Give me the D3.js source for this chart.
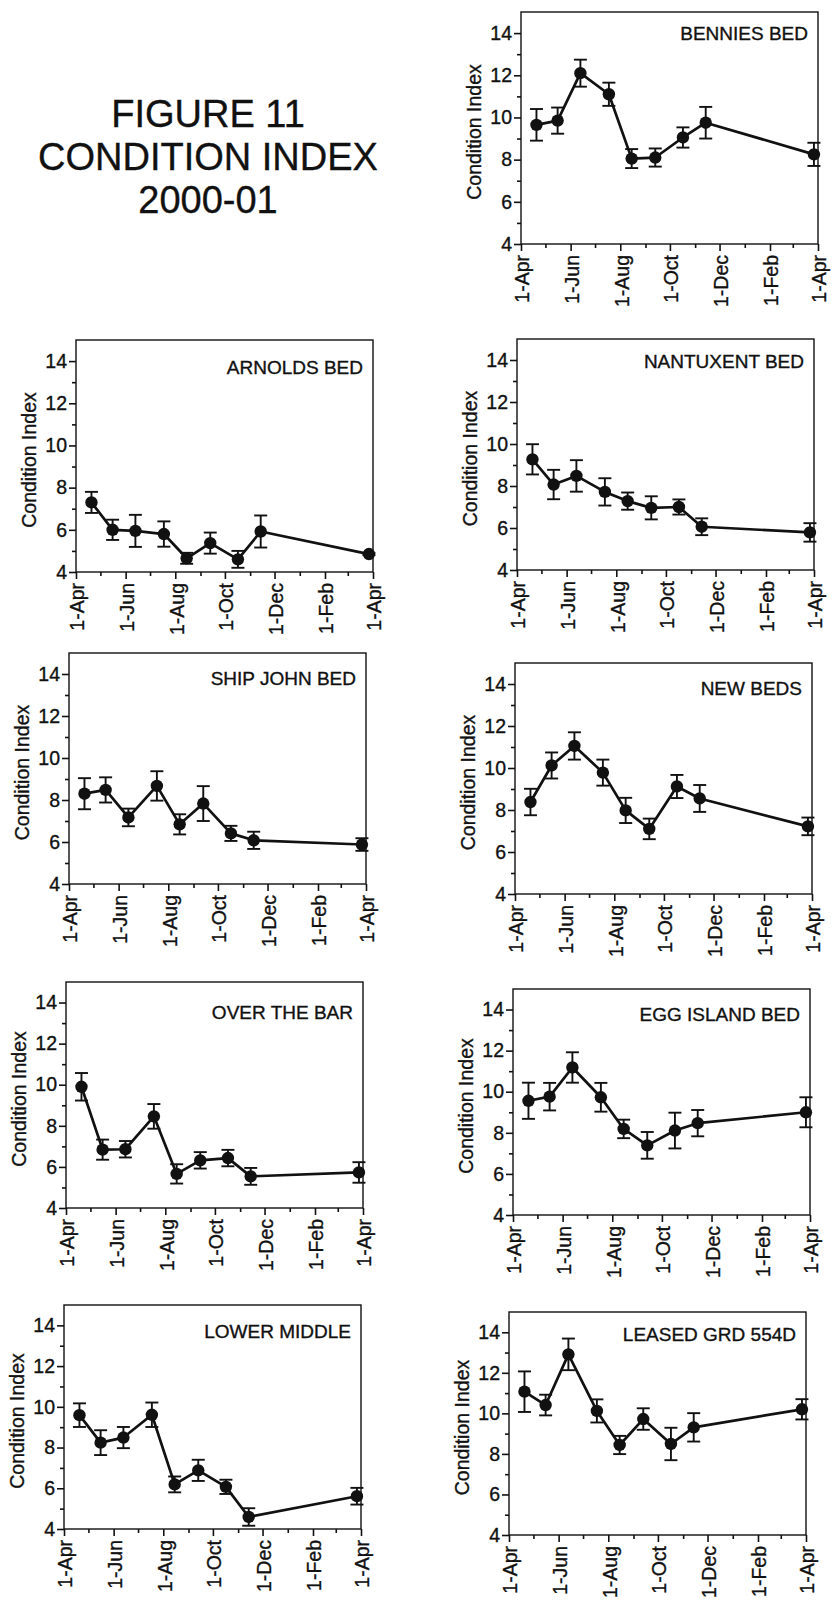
<html>
<head>
    <script src="https://d3js.org/d3.v7.min.js"></script>
    <style type="text/css">
        body { margin: 0; background: #fff; }
        svg { display: block; background: #fff; }
        text { font-family: "Liberation Sans", Arial, Helvetica, sans-serif; fill: #111; stroke: #111; stroke-width: 0.35px; }
        .frame { fill: none; stroke: #111; stroke-width: 1.4px; }
        .axis path { display: none; }
        .axis line { stroke: #111; stroke-width: 1.6px; }
        .axis text { font-size: 19.5px; }
        .trend { fill: none; stroke: #111; stroke-width: 2.7px; stroke-linejoin: round; }
        .err { stroke: #111; stroke-width: 1.9px; }
        .dot { fill: #111; }
        .bed { font-size: 19px; text-anchor: end; }
        .ylab { font-size: 19.5px; text-anchor: middle; }
        .title { font-size: 38px; text-anchor: middle; }
    </style>
</head>
<body>
<script type="text/javascript">
    // sampling dates (same for every bed)
    var sampleDates = ["2000-04-20", "2000-05-16", "2000-06-13", "2000-07-18", "2000-08-15",
                       "2000-09-13", "2000-10-17", "2000-11-14", "2001-03-27"];

    var bedNames = ["BENNIES BED", "ARNOLDS BED", "NANTUXENT BED", "SHIP JOHN BED", "NEW BEDS",
                    "OVER THE BAR", "EGG ISLAND BED", "LOWER MIDDLE", "LEASED GRD 554D"];

    var benniesMean   = [9.65, 9.85, 12.1, 11.1, 8.05, 8.1, 9.05, 9.75, 8.25];
    var benniesErr    = [0.75, 0.62, 0.64, 0.55, 0.45, 0.43, 0.48, 0.75, 0.55];
    var arnoldsMean   = [7.3, 6.0, 5.95, 5.8, 4.65, 5.37, 4.6, 5.92, 4.85];
    var arnoldsErr    = [0.5, 0.48, 0.76, 0.6, 0.26, 0.5, 0.4, 0.76, 0.05];
    var nantuxentMean = [9.27, 8.07, 8.48, 7.72, 7.28, 6.96, 7.0, 6.06, 5.79];
    var nantuxentErr  = [0.72, 0.7, 0.75, 0.65, 0.41, 0.55, 0.36, 0.4, 0.44];
    var shipJohnMean  = [8.3, 8.48, 7.17, 8.67, 6.84, 7.83, 6.41, 6.08, 5.88];
    var shipJohnErr   = [0.74, 0.6, 0.42, 0.7, 0.48, 0.83, 0.36, 0.41, 0.3];
    var newBedsMean   = [8.38, 10.12, 11.05, 9.78, 7.98, 7.1, 9.12, 8.55, 7.22];
    var newBedsErr    = [0.63, 0.62, 0.65, 0.62, 0.6, 0.49, 0.55, 0.64, 0.42];
    var overBarMean   = [9.9, 6.84, 6.86, 8.46, 5.66, 6.32, 6.43, 5.54, 5.73];
    var overBarErr    = [0.67, 0.49, 0.4, 0.6, 0.47, 0.4, 0.4, 0.41, 0.5];
    var eggIslandMean = [9.56, 9.76, 11.18, 9.73, 8.19, 7.39, 8.11, 8.47, 9.0];
    var eggIslandErr  = [0.88, 0.67, 0.74, 0.7, 0.45, 0.65, 0.87, 0.64, 0.73];
    var lowerMidMean  = [9.59, 8.24, 8.49, 9.61, 6.19, 6.88, 6.07, 4.59, 5.61];
    var lowerMidErr   = [0.58, 0.61, 0.52, 0.6, 0.39, 0.52, 0.35, 0.43, 0.41];
    var leasedMean    = [11.07, 10.41, 12.91, 10.12, 8.44, 9.72, 8.49, 9.31, 10.2];
    var leasedErr     = [1.0, 0.51, 0.78, 0.57, 0.45, 0.53, 0.8, 0.7, 0.5];

    var yMajor = [4, 6, 8, 10, 12, 14];
    var yMinor = [5, 7, 9, 11, 13];
    var yDomain = [4, 15];
    var xRange = ["2000-04-01", "2001-04-01"];

    var means = [benniesMean, arnoldsMean, nantuxentMean, shipJohnMean, newBedsMean,
                 overBarMean, eggIslandMean, lowerMidMean, leasedMean];
    var errs = [benniesErr, arnoldsErr, nantuxentErr, shipJohnErr, newBedsErr,
                overBarErr, eggIslandErr, lowerMidErr, leasedErr];

    // where each panel box sits on the page
    var layout = [
        {x: 521, y: 12, h: 232, labelY: 28},
        {x: 76, y: 340, h: 232, labelY: 34},
        {x: 517, y: 339, h: 231, labelY: 29},
        {x: 69, y: 653, h: 231, labelY: 32},
        {x: 515, y: 663, h: 231, labelY: 32},
        {x: 66, y: 982, h: 226, labelY: 37},
        {x: 513, y: 989, h: 226, labelY: 32},
        {x: 64, y: 1305, h: 224, labelY: 33},
        {x: 509, y: 1312, h: 223, labelY: 29}
    ];
    var boxW = 297;

    var parse = d3.timeParse("%Y-%m-%d");
    var dates = sampleDates.map(parse);
    var xStart = parse(xRange[0]), xEnd = parse(xRange[1]);
    var months = d3.timeMonth.range(xStart, d3.timeDay.offset(xEnd, 1));
    var xMajor = months.filter(function (d, i) { return i % 2 === 0; });
    var xMinor = months.filter(function (d, i) { return i % 2 === 1; });

    var svg = d3.select("body").append("svg")
        .attr("width", 833)
        .attr("height", 1606);

    var title = svg.append("g").attr("transform", "translate(208,0)");
    ["FIGURE 11", "CONDITION INDEX", "2000-01"].forEach(function (t, i) {
        title.append("text").attr("class", "title")
            .attr("x", 0).attr("y", 127 + i * 43).text(t);
    });

    bedNames.forEach(function (name, k) {
        var L = layout[k];
        var x = d3.scaleTime().domain([xStart, xEnd]).range([0, boxW]);
        var y = d3.scaleLinear().domain(yDomain).range([L.h, 0]);

        var g = svg.append("g").attr("transform", "translate(" + L.x + "," + L.y + ")");

        g.append("rect").attr("class", "frame")
            .attr("x", 0).attr("y", 0).attr("width", boxW).attr("height", L.h);

        g.append("g").attr("class", "axis")
            .call(d3.axisLeft(y).tickValues(yMajor).tickSize(7).tickPadding(2).tickFormat(d3.format("d")));
        g.append("g").attr("class", "axis")
            .call(d3.axisLeft(y).tickValues(yMinor).tickSize(4).tickFormat(""));

        var xa = g.append("g").attr("class", "axis")
            .attr("transform", "translate(0," + L.h + ")")
            .call(d3.axisBottom(x).tickValues(xMajor).tickSize(7).tickFormat(d3.timeFormat("%-d-%b")));
        xa.selectAll("text")
            .attr("y", 0).attr("x", -11).attr("dy", "0.4em")
            .attr("transform", "rotate(-90)")
            .style("text-anchor", "end")
            .style("font-size", "19.5px");
        g.append("g").attr("class", "axis")
            .attr("transform", "translate(0," + L.h + ")")
            .call(d3.axisBottom(x).tickValues(xMinor).tickSize(4).tickFormat(""));

        g.append("text").attr("class", "ylab")
            .attr("transform", "translate(-40," + (L.h / 2 + 4) + ") rotate(-90)")
            .text("Condition Index");

        g.append("text").attr("class", "bed")
            .attr("x", boxW - 10).attr("y", L.labelY)
            .text(name);

        var pts = dates.map(function (d, i) {
            return {date: d, mean: means[k][i], err: errs[k][i]};
        });

        var bars = g.selectAll(".ebar").data(pts).enter().append("g").attr("class", "ebar");
        bars.append("line").attr("class", "err")
            .attr("x1", function (d) { return x(d.date); })
            .attr("x2", function (d) { return x(d.date); })
            .attr("y1", function (d) { return y(d.mean + d.err); })
            .attr("y2", function (d) { return y(d.mean - d.err); });
        [1, -1].forEach(function (s) {
            bars.append("line").attr("class", "err")
                .attr("x1", function (d) { return x(d.date) - 6.5; })
                .attr("x2", function (d) { return x(d.date) + 6.5; })
                .attr("y1", function (d) { return y(d.mean + s * d.err); })
                .attr("y2", function (d) { return y(d.mean + s * d.err); });
        });

        var line = d3.line()
            .x(function (d) { return x(d.date); })
            .y(function (d) { return y(d.mean); });
        g.append("path").datum(pts).attr("class", "trend").attr("d", line);

        g.selectAll(".dot").data(pts).enter().append("circle")
            .attr("class", "dot")
            .attr("cx", function (d) { return x(d.date); })
            .attr("cy", function (d) { return y(d.mean); })
            .attr("r", 6.2);
    });
</script>
</body>
</html>
